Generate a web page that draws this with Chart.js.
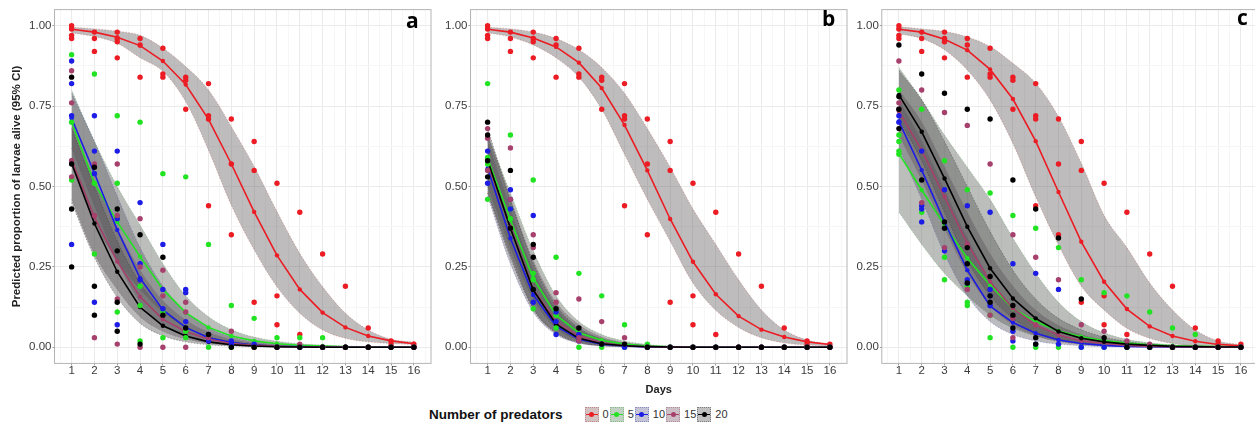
<!DOCTYPE html>
<html>
<head>
<meta charset="utf-8">
<title>Predicted proportion of larvae alive</title>
<script src="https://cdn.jsdelivr.net/npm/chart.js@4.4.0/dist/chart.umd.min.js"></script>
<style>
    html, body { margin: 0; padding: 0; background: #fff; overflow: hidden; }
    #wrap { position: relative; width: 1255px; height: 422px; overflow: hidden; font-family: "Liberation Sans", Arial, sans-serif; }
    canvas { position: absolute; top: 0; }
    .tag { position: absolute; font-family: "Open Sans", sans-serif; font-weight: 700; font-size: 21px; line-height: 1; color: #000; }
    #legend { position: absolute; left: 429px; top: 406px; height: 16px; display: flex; align-items: center; font-size: 11px; color: #333; white-space: nowrap; }
    #legend .ltitle { font-weight: 700; font-size: 13.5px; color: #111; margin-right: 22px; }
    #legend .box { position: relative; width: 12px; height: 13px; border: 1px dotted; margin-right: 4px; }
    #legend .ln { position: absolute; left: 0; right: 0; top: 6px; height: 1.6px; }
    #legend .dot { position: absolute; left: 3.5px; top: 4.3px; width: 5px; height: 5px; border-radius: 50%; }
    #legend .lab { margin-right: 1px; }
</style>
</head>
<body>
<div id="wrap">
    <canvas id="panelA" width="435" height="400" style="left:0px"></canvas>
    <canvas id="panelB" width="415" height="400" style="left:436px"></canvas>
    <canvas id="panelC" width="409" height="400" style="left:853px"></canvas>
    <div class="tag" style="left:406px; top:10px;">a</div>
    <div class="tag" style="left:822px; top:8px;">b</div>
    <div class="tag" style="left:1237px; top:7px;">c</div>
    <div id="legend"><span class="ltitle">Number of predators</span></div>
</div>

<script>
    // days on the x axis and tick values
    const days = [1, 2, 3, 4, 5, 6, 7, 8, 9, 10, 11, 12, 13, 14, 15, 16];
    const yLabelTicks = [0, 0.25, 0.5, 0.75, 1];

    const groupNames = ['0', '5', '10', '15', '20'];
    const groupColors = ['#ec1c24', '#22e322', '#1c1ce6', '#a6406c', '#000000'];
    const bandFills = ['rgba(92,88,88,0.40)', 'rgba(86,93,86,0.40)', 'rgba(87,87,97,0.40)', 'rgba(92,86,90,0.40)', 'rgba(80,80,80,0.40)'];
    const bandEdges = ['rgba(170,70,70,0.45)', 'rgba(60,150,60,0.4)', 'rgba(70,70,170,0.45)', 'rgba(140,80,110,0.45)', 'rgba(40,40,40,0.45)'];
    const keyFills = ['#d2c2c2', '#c2d2c2', '#c4c4d6', '#ccc0c6', '#c0c0c0'];

    // ---- panel a : fitted values and 95% CI ----
    const fitA_0 = [.989, .980, .964, .938, .890, .817, .709, .570, .421, .286, .180, .108, .062, .035, .020, .011];
    const hiA_0  = [.995, .990, .983, .970, .930, .873, .800, .686, .562, .422, .292, .188, .106, .054, .025, .016];
    const loA_0  = [.978, .966, .945, .900, .858, .764, .613, .442, .303, .188, .106, .054, .028, .017, .012, .009];
    const fitA_5 = [.700, .510, .390, .282, .180, .108, .062, .035, .020, .011, .006, .004, .002, .001, .001, .000];
    const hiA_5  = [.800, .640, .500, .380, .260, .160, .095, .055, .032, .019, .011, .007, .004, .002, .001, .001];
    const loA_5  = [.580, .390, .270, .180, .110, .062, .033, .017, .009, .005, .003, .002, .001, .000, .000, .000];
    const fitA_10 = [.712, .541, .365, .215, .116, .062, .030, .015, .007, .003, .002, .001, .000, .000, .000, .000];
    const hiA_10  = [.790, .640, .470, .310, .190, .110, .060, .032, .017, .009, .005, .003, .002, .001, .000, .000];
    const loA_10  = [.620, .440, .270, .140, .070, .033, .015, .007, .003, .001, .001, .000, .000, .000, .000, .000];
    const fitA_15 = [.582, .405, .267, .157, .087, .049, .025, .012, .006, .003, .001, .001, .000, .000, .000, .000];
    const hiA_15  = [.700, .520, .370, .240, .145, .085, .047, .025, .013, .007, .004, .002, .001, .000, .000, .000];
    const loA_15  = [.460, .290, .180, .095, .050, .026, .013, .006, .003, .001, .001, .000, .000, .000, .000, .000];
    const fitA_20 = [.572, .385, .235, .125, .067, .035, .017, .008, .004, .002, .001, .000, .000, .000, .000, .000];
    const hiA_20  = [.680, .500, .330, .200, .115, .064, .034, .018, .009, .005, .002, .001, .000, .000, .000, .000];
    const loA_20  = [.450, .280, .155, .075, .036, .017, .008, .004, .002, .001, .000, .000, .000, .000, .000, .000];

    // ---- panel b ----
    const fitB_0 = [.989, .980, .962, .934, .885, .806, .691, .550, .399, .266, .165, .097, .055, .032, .017, .009];
    const hiB_0  = [.995, .990, .980, .960, .925, .870, .790, .680, .560, .430, .320, .210, .116, .054, .023, .010];
    const loB_0  = [.978, .965, .940, .900, .840, .740, .600, .460, .330, .200, .115, .062, .030, .014, .007, .004];
    const fitB_5 = [.588, .396, .215, .100, .045, .022, .010, .004, .002, .001, .000, .000, .000, .000, .000, .000];
    const hiB_5  = [.660, .480, .300, .160, .080, .040, .020, .009, .004, .002, .001, .000, .000, .000, .000, .000];
    const loB_5  = [.500, .310, .150, .060, .022, .008, .003, .001, .000, .000, .000, .000, .000, .000, .000, .000];
    const fitB_10 = [.557, .339, .163, .066, .025, .010, .004, .001, .000, .000, .000, .000, .000, .000, .000, .000];
    const hiB_10  = [.640, .430, .240, .120, .055, .025, .011, .005, .002, .001, .000, .000, .000, .000, .000, .000];
    const loB_10  = [.470, .260, .110, .040, .013, .005, .002, .001, .000, .000, .000, .000, .000, .000, .000, .000];
    const fitB_15 = [.573, .375, .180, .080, .035, .013, .005, .002, .001, .000, .000, .000, .000, .000, .000, .000];
    const hiB_15  = [.660, .460, .270, .140, .070, .032, .014, .006, .003, .001, .000, .000, .000, .000, .000, .000];
    const loB_15  = [.480, .290, .120, .045, .015, .005, .002, .001, .000, .000, .000, .000, .000, .000, .000, .000];
    const fitB_20 = [.582, .370, .178, .072, .028, .011, .005, .002, .001, .000, .000, .000, .000, .000, .000, .000];
    const hiB_20  = [.680, .460, .260, .130, .060, .027, .012, .005, .002, .001, .000, .000, .000, .000, .000, .000];
    const loB_20  = [.480, .280, .120, .045, .015, .005, .002, .001, .000, .000, .000, .000, .000, .000, .000, .000];

    // ---- panel c ----
    const fitC_0 = [.989, .980, .958, .924, .864, .772, .641, .483, .328, .204, .119, .065, .035, .019, .009, .005];
    const hiC_0  = [.997, .990, .982, .965, .935, .883, .821, .717, .572, .410, .310, .200, .116, .054, .020, .008];
    const loC_0  = [.975, .960, .925, .862, .769, .634, .468, .318, .190, .116, .059, .028, .012, .005, .003, .002];
    const fitC_5 = [.603, .489, .380, .277, .194, .120, .080, .051, .033, .021, .013, .008, .005, .003, .002, .001];
    const hiC_5  = [.870, .770, .660, .560, .460, .340, .230, .140, .080, .045, .025, .014, .008, .005, .003, .002];
    const loC_5  = [.420, .320, .230, .160, .100, .060, .035, .020, .011, .006, .003, .002, .001, .001, .000, .000];
    const fitC_10 = [.702, .551, .390, .240, .128, .077, .044, .023, .012, .006, .003, .002, .001, .000, .000, .000];
    const hiC_10  = [.770, .640, .490, .340, .210, .125, .072, .040, .022, .012, .006, .003, .002, .001, .000, .000];
    const loC_10  = [.620, .460, .290, .160, .080, .040, .020, .010, .005, .002, .001, .000, .000, .000, .000, .000];
    const fitC_15 = [.733, .613, .468, .323, .204, .121, .069, .038, .020, .012, .006, .003, .002, .001, .000, .000];
    const hiC_15  = [.800, .700, .560, .420, .290, .190, .115, .068, .040, .023, .013, .007, .004, .002, .001, .001];
    const loC_15  = [.660, .520, .370, .230, .130, .070, .036, .018, .009, .005, .002, .001, .000, .000, .000, .000];
    const fitC_20 = [.785, .670, .525, .375, .246, .152, .090, .049, .028, .017, .010, .006, .003, .002, .001, .001];
    const hiC_20  = [.860, .770, .640, .500, .360, .240, .150, .090, .055, .032, .018, .010, .006, .004, .002, .001];
    const loC_20  = [.710, .580, .420, .270, .160, .090, .048, .026, .014, .008, .004, .002, .001, .001, .000, .000];

    // ---- observed proportions, one list per day ----
    const obs_0 = [[1, .99, .97, .96], [.98, .96, .92], [.98, .96, .95, .90], [.96, .94, .84], [.93, .85, .84], [.84, .83, .74],
        [.82, .72, .71, .44], [.71, .57, .35], [.64, .55, .14], [.51, .16, .07], [.42, .04], [.29, 0], [.19, 0], [.06, 0], [.02, .01, 0], [.01, 0]];

    const obsA_5 = [[.91, .70, .52], [.85, .51, .29], [.72, .51, .40, .11], [.70, .19, .13, .02], [.54, .11, .03], [.53, .05, .03],
        [.32, 0], [.13, 0], [.09, 0], [.03, 0], [.03, 0], [.03, 0], [0], [0], [0], [0]];
    const obsA_10 = [[.89, .82, .72, .32], [.72, .61, .54, .14], [.61, .40, .07], [.45, .26, .21], [.32, .18, .12], [.18, .17, .08],
        [.04, .02], [.02, .01], [.01], [0], [0], [0], [0], [0], [0], [0]];
    const obsA_15 = [[.86, .76, .58, .53], [.57, .41, .03], [.57, .41, .15, .01], [.40, .25, 0], [.24, .16, 0], [.14, .11, 0],
        [.03], [.05], [0], [0], [.01], [0], [0], [0], [0], [0]];
    const obsA_20 = [[.84, .57, .43, .25], [.56, .19, .10], [.43, .30, .14, .05], [.35, .01], [.28, .10], [.06],
        [.04], [0], [0], [0], [0], [0], [0], [0], [0], [0]];

    const obsB_5 = [[.82, .59, .57, .46], [.66, .43, .40], [.52, .23, .21, .12], [.28, .10, .06], [.23, 0], [.16, 0],
        [.07, 0], [.01, 0], [0], [0], [0], [0], [0], [0], [0], [0]];
    const obsB_10 = [[.61, .51], [.49, .46, .43], [.41, .14], [.11, .08, .04], [.04, .02], [.01],
        [0], [0], [0], [0], [0], [0], [0], [0], [0], [0]];
    const obsB_15 = [[.68, .65, .55], [.62, .46, .37], [.35, .31], [.17, .14], [.15, .03, .02], [.08],
        [.03], [0], [0], [0], [0], [0], [0], [0], [0], [0]];
    const obsB_20 = [[.70, .66, .58, .53], [.55, .37], [.32, .28, .18], [.12], [.06], [.01],
        [.01], [0], [0], [0], [0], [0], [0], [0], [0], [0]];

    const obsC_5 = [[.80, .66, .64, .61, .60], [.74, .42], [.58, .28, .21], [.49, .19, .14, .13], [.48, .10, .03], [.41, 0],
        [.37, 0], [.31, 0], [.21, 0], [.17, 0], [.16, 0], [.11, 0], [.06, 0], [.04, 0], [0], [0]];
    const obsC_10 = [[.72, .70], [.61, .44, .43, .39], [.49, .30], [.44, .21, .20], [.42, .18, .16, .13], [.26, .05, .02],
        [.23, .01], [.18, .01], [0], [0], [0], [0], [0], [0], [0], [0]];
    const obsC_15 = [[.89, .76, .74], [.80, .45], [.73, .31], [.69, .32, .18], [.57, .10], [.35, .09, .03],
        [.28, .07], [.21], [.07], [.05], [.02], [.01], [0], [0], [0], [0]];
    const obsC_20 = [[.94, .78, .74, .68], [.85, .52], [.79, .39, .37], [.74, .31, .26, .20], [.71, .22, .16, .14], [.52, .13, .10, .06],
        [.43, .03, .01], [.34], [.15], [.03], [0], [0], [0], [0], [0], [0]];

    Chart.defaults.font.family = "'Liberation Sans', Arial, sans-serif";

    function pts(vals) {
        return vals.map(function(v, i) { return { x: days[i], y: v }; });
    }

    function obsPts(list) {
        const out = [];
        list.forEach(function(vals, i) {
            vals.forEach(function(v) { out.push({ x: days[i], y: v }); });
        });
        return out;
    }

    // grid: major at labelled ticks, minor half way between
    const xGrid = [days[0] - 0.5];
    days.forEach(function(d) { xGrid.push(d, d + 0.5); });
    const yGrid = [];
    yLabelTicks.forEach(function(v, i) {
        yGrid.push(v);
        if (i < yLabelTicks.length - 1) yGrid.push((v + yLabelTicks[i + 1]) / 2);
    });

    function isMajorX(v) { return days.indexOf(v) !== -1; }
    function isMajorY(v) { return yLabelTicks.some(function(t) { return Math.abs(t - v) < 1e-9; }); }

    const frame = {
        id: 'frame',
        afterDraw: function(chart) {
            const a = chart.chartArea;
            const ctx = chart.ctx;
            ctx.save();
            ctx.strokeStyle = '#b4b4b4';
            ctx.lineWidth = 1;
            ctx.strokeRect(a.left, a.top, a.right - a.left, a.bottom - a.top);
            ctx.restore();
        }
    };

    function buildDatasets(fit, hi, lo, obs) {
        const ds = [];
        groupNames.forEach(function(g, gi) {
            ds.push({
                label: g + ' upper', data: pts(hi[gi]), borderColor: bandEdges[gi], borderWidth: 0.8,
                borderDash: [1.5, 1.5], pointRadius: 0, fill: false, cubicInterpolationMode: 'monotone', order: 100 - gi
            });
            ds.push({
                label: g + ' lower', data: pts(lo[gi]), borderColor: bandEdges[gi], borderWidth: 0.8,
                borderDash: [1.5, 1.5], pointRadius: 0, fill: '-1', backgroundColor: bandFills[gi],
                cubicInterpolationMode: 'monotone', order: 100 - gi
            });
        });
        groupNames.forEach(function(g, gi) {
            ds.push({
                label: g, data: pts(fit[gi]), borderColor: groupColors[gi], borderWidth: 1.6,
                pointRadius: 2.2, pointBackgroundColor: groupColors[gi], pointBorderWidth: 0, fill: false, order: 50 - gi
            });
        });
        groupNames.forEach(function(g, gi) {
            ds.push({
                label: g + ' observed', data: obsPts(obs[gi]), showLine: false, pointRadius: 2.7,
                pointBackgroundColor: groupColors[gi], pointBorderWidth: 0, order: 10 - gi
            });
        });
        return ds;
    }

    function makePanel(id, yWidth, padRight, yTitle, xTitle, fit, hi, lo, obs) {
        const ctx = document.getElementById(id).getContext('2d');
        return new Chart(ctx, {
            type: 'line',
            data: { datasets: buildDatasets(fit, hi, lo, obs) },
            plugins: [frame],
            options: {
                responsive: false,
                animation: false,
                layout: { padding: { top: 9.6, right: padRight, left: 0, bottom: 0 } },
                plugins: { legend: { display: false }, tooltip: { enabled: false } },
                scales: {
                    x: {
                        type: 'linear', min: 0.25, max: 16.75,
                        afterBuildTicks: function(ax) { ax.ticks = xGrid.map(function(v) { return { value: v }; }); },
                        afterFit: function(ax) { ax.height = 36.6; },
                        ticks: {
                            autoSkip: false, maxRotation: 0, padding: 0, color: '#3b3b3b',
                            font: { size: 11.5, lineHeight: 1 },
                            callback: function(v) { return isMajorX(v) ? String(v) : ''; }
                        },
                        grid: {
                            color: function(c) { return c.tick && isMajorX(c.tick.value) ? '#ebebeb' : '#f6f6f6'; },
                            tickLength: 2,
                            tickColor: function(c) { return c.tick && isMajorX(c.tick.value) ? '#9a9a9a' : 'rgba(0,0,0,0)'; }
                        },
                        border: { display: false },
                        title: {
                            display: !!xTitle, text: xTitle || '', color: '#222',
                            font: { size: 11, weight: 'bold' }, padding: { top: 0, bottom: 3.4 }
                        }
                    },
                    y: {
                        type: 'linear', min: -0.05, max: 1.05,
                        afterBuildTicks: function(ax) { ax.ticks = yGrid.map(function(v) { return { value: v }; }); },
                        afterFit: function(ax) { ax.width = yWidth; },
                        ticks: {
                            autoSkip: false, padding: 1, color: '#3b3b3b',
                            font: { size: 11.5 },
                            callback: function(v) { return isMajorY(v) ? v.toFixed(2) : ''; }
                        },
                        grid: {
                            color: function(c) { return c.tick && isMajorY(c.tick.value) ? '#ebebeb' : '#f6f6f6'; },
                            tickLength: 2,
                            tickColor: function(c) { return c.tick && isMajorY(c.tick.value) ? '#9a9a9a' : 'rgba(0,0,0,0)'; }
                        },
                        border: { display: false },
                        title: {
                            display: !!yTitle, text: yTitle || '', color: '#222',
                            font: { size: 11.5, weight: 'bold' }, padding: { top: 9.8, bottom: 0 }
                        }
                    }
                }
            }
        });
    }

    function buildLegend() {
        const legend = document.getElementById('legend');
        groupNames.forEach(function(g, gi) {
            const box = document.createElement('span');
            box.className = 'box';
            box.style.background = keyFills[gi];
            box.style.borderColor = bandEdges[gi];
            const ln = document.createElement('i');
            ln.className = 'ln';
            ln.style.background = groupColors[gi];
            const dot = document.createElement('i');
            dot.className = 'dot';
            dot.style.background = groupColors[gi];
            box.appendChild(ln);
            box.appendChild(dot);
            const lab = document.createElement('span');
            lab.className = 'lab';
            lab.textContent = g;
            legend.appendChild(box);
            legend.appendChild(lab);
        });
    }

    makePanel('panelA', 54.5, 1.8, 'Predicted proportion of larvae alive (95% CI)', null,
        [fitA_0, fitA_5, fitA_10, fitA_15, fitA_20], [hiA_0, hiA_5, hiA_10, hiA_15, hiA_20],
        [loA_0, loA_5, loA_10, loA_15, loA_20], [obs_0, obsA_5, obsA_10, obsA_15, obsA_20]);
    makePanel('panelB', 34.5, 1.5, null, 'Days',
        [fitB_0, fitB_5, fitB_10, fitB_15, fitB_20], [hiB_0, hiB_5, hiB_10, hiB_15, hiB_20],
        [loB_0, loB_5, loB_10, loB_15, loB_20], [obs_0, obsB_5, obsB_10, obsB_15, obsB_20]);
    makePanel('panelC', 28.8, 1.1, null, null,
        [fitC_0, fitC_5, fitC_10, fitC_15, fitC_20], [hiC_0, hiC_5, hiC_10, hiC_15, hiC_20],
        [loC_0, loC_5, loC_10, loC_15, loC_20], [obs_0, obsC_5, obsC_10, obsC_15, obsC_20]);
    buildLegend();
</script>
</body>
</html>
